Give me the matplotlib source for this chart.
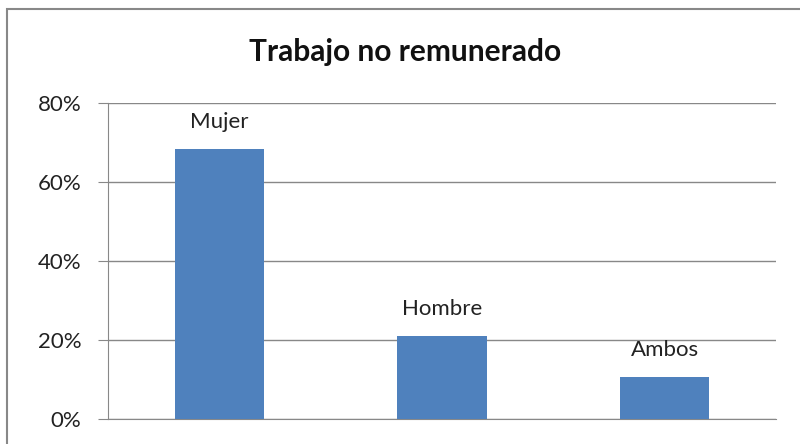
import matplotlib.pyplot as plt
from matplotlib.patches import Rectangle
from matplotlib.ticker import PercentFormatter

categories = ["Mujer", "Hombre", "Ambos"]
values = [68.4, 21.0, 10.6]
yticks = [0, 20, 40, 60, 80]

plt.rcParams["font.family"] = ["Lato", "DejaVu Sans"]

fig = plt.figure(figsize=(8, 4.44), dpi=100)
ax = fig.add_axes([0.135, 0.0563, 0.835, 0.712])

x = range(len(categories))
bars = ax.bar(x, values, width=0.4, color="#4f81bd", zorder=3)
for rect, lab in zip(bars, categories):
    ax.annotate(lab, (rect.get_x() + rect.get_width() / 2, rect.get_height()),
                xytext=(0, 12), textcoords="offset points",
                ha="center", va="bottom", fontsize=16, color="#222222")

ax.set_xlim(-0.5, 2.5)
ax.set_ylim(0, 80)
ax.set_yticks(yticks)
ax.yaxis.set_major_formatter(PercentFormatter(decimals=0))
ax.set_xticks([])
ax.grid(axis="y", color="#888888", linewidth=1, zorder=0)
ax.tick_params(axis="y", length=7, color="#888888", labelsize=16,
               labelcolor="#222222", pad=12)
for s in ["top", "right"]:
    ax.spines[s].set_visible(False)
for s in ["left", "bottom"]:
    ax.spines[s].set_color("#888888")

fig.text(0.506, 0.883, "Trabajo no remunerado", ha="center", va="center",
         fontsize=21.5, fontweight="bold", color="#111111")

fig.patches.append(Rectangle((7 / 800, -0.05), 1.0, 1 - 9 / 444 + 0.05,
                             transform=fig.transFigure, fill=False,
                             edgecolor="#888888", linewidth=1.5))

fig.savefig("out.png", dpi=100)
